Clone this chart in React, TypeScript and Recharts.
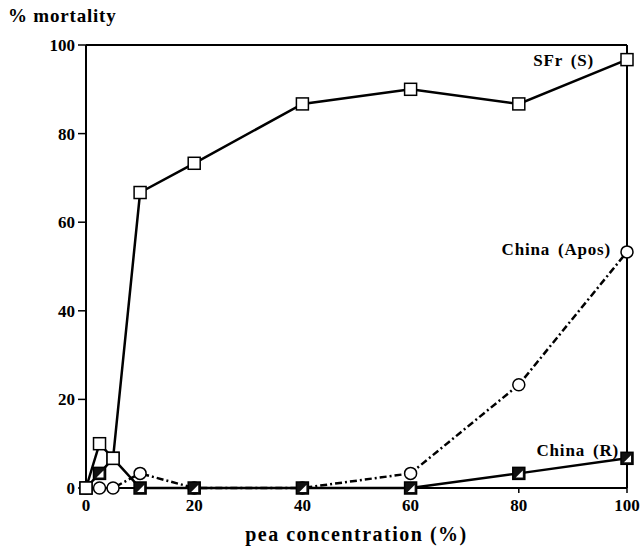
import React from 'react'
import {
  LineChart,
  Line,
  XAxis,
  YAxis,
  ReferenceLine,
  LabelList,
} from 'recharts'

const concentrations = [0, 2.5, 5, 10, 20, 40, 60, 80, 100]
const sfrS = [0, 10, 6.7, 66.7, 73.3, 86.7, 90, 86.7, 96.7]
const chinaApos = [0, 0, 0, 3.3, 0, 0, 3.3, 23.3, 53.3]
const chinaR = [0, 3.3, 6.7, 0, 0, 0, 0, 3.3, 6.7]
const xTicks = [0, 20, 40, 60, 80, 100]
const yTicks = [0, 20, 40, 60, 80, 100]

const data = concentrations.map((c, i) => ({
  conc: c,
  sfr: sfrS[i],
  apos: chinaApos[i],
  r: chinaR[i],
}))

const FONT = '"Liberation Serif", "Times New Roman", serif'
const LAST = concentrations.length - 1

const OpenSquare = ({ cx, cy }: any) => {
  if (cx == null || cy == null) return null
  return (
    <rect x={cx - 6} y={cy - 6} width={12} height={12} fill="#fff" stroke="#000" strokeWidth={1.5} />
  )
}

const OpenCircle = ({ cx, cy }: any) => {
  if (cx == null || cy == null) return null
  return <circle cx={cx} cy={cy} r={6} fill="#fff" stroke="#000" strokeWidth={1.5} />
}

// black square with a white corner triangle
const HalfSquare = ({ cx, cy }: any) => {
  if (cx == null || cy == null) return null
  return (
    <g>
      <rect x={cx - 6} y={cy - 6} width={12} height={12} fill="#111" stroke="#000" strokeWidth={1.5} />
      <polygon
        points={`${cx + 4},${cy - 3} ${cx + 4},${cy + 4} ${cx - 3},${cy + 4}`}
        fill="#fff"
      />
    </g>
  )
}

const endLabel = (text: string, dx: number, dy: number) => (props: any) => {
  const { x, y, index } = props
  if (index !== LAST) return null
  return (
    <text
      x={x + dx}
      y={y + dy}
      textAnchor="end"
      dominantBaseline="central"
      fontFamily={FONT}
      fontWeight="bold"
      fontSize={17}
      letterSpacing={0.8}
      wordSpacing={3}
      fill="#000"
    >
      {text}
    </text>
  )
}

const tickStyle = {
  fill: '#000',
  fontFamily: FONT,
  fontWeight: 'bold',
  fontSize: 17,
}

export default function App() {
  return (
    <div style={{ position: 'absolute', left: 0, top: 0, width: 643, height: 554, background: '#fff' }}>
      <div
        style={{
          position: 'absolute',
          left: 8,
          top: 5,
          fontFamily: FONT,
          fontWeight: 'bold',
          fontSize: 19,
          letterSpacing: 0.8,
        }}
      >
        % mortality
      </div>
      <LineChart
        width={643}
        height={554}
        data={data}
        margin={{ top: 45, right: 16, bottom: 36, left: 26 }}
      >
        <XAxis
          dataKey="conc"
          type="number"
          domain={[0, 100]}
          ticks={xTicks}
          axisLine={{ stroke: '#000', strokeWidth: 2 }}
          tickLine={{ stroke: '#000', strokeWidth: 1.5 }}
          tickSize={5}
          tickMargin={6}
          height={30}
          tick={tickStyle}
        />
        <YAxis
          type="number"
          domain={[0, 100]}
          ticks={yTicks}
          width={60}
          axisLine={{ stroke: '#000', strokeWidth: 2 }}
          tickLine={{ stroke: '#000', strokeWidth: 1.5 }}
          tickSize={8}
          tickMargin={3}
          tick={tickStyle}
        />
        <ReferenceLine y={100} stroke="#000" strokeWidth={2} />
        <ReferenceLine x={100} stroke="#000" strokeWidth={2} />
        <Line
          dataKey="apos"
          stroke="#000"
          strokeWidth={2.5}
          strokeDasharray="7 3 2 3"
          dot={<OpenCircle />}
          isAnimationActive={false}
        >
          <LabelList dataKey="apos" content={endLabel('China (Apos)', -16, -2)} />
        </Line>
        <Line
          dataKey="r"
          stroke="#000"
          strokeWidth={2.5}
          dot={<HalfSquare />}
          isAnimationActive={false}
        >
          <LabelList dataKey="r" content={endLabel('China (R)', -8, -8)} />
        </Line>
        <Line
          dataKey="sfr"
          stroke="#000"
          strokeWidth={2.5}
          dot={<OpenSquare />}
          isAnimationActive={false}
        >
          <LabelList dataKey="sfr" content={endLabel('SFr (S)', -33, 1)} />
        </Line>
      </LineChart>
      <div
        style={{
          position: 'absolute',
          left: 0,
          width: 643,
          top: 523,
          paddingLeft: 70,
          boxSizing: 'border-box',
          textAlign: 'center',
          fontFamily: FONT,
          fontWeight: 'bold',
          fontSize: 20,
          letterSpacing: 1.5,
        }}
      >
        pea concentration (%)
      </div>
    </div>
  )
}
